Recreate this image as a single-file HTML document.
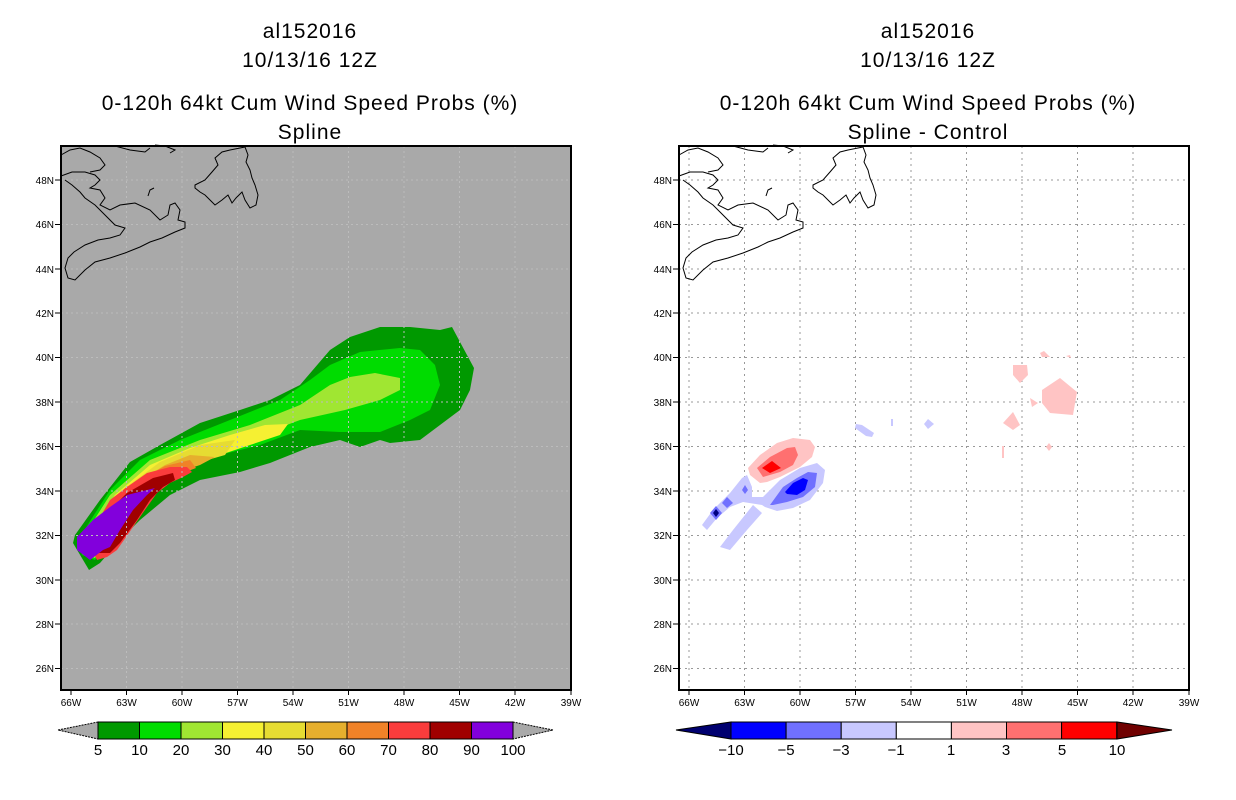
<!DOCTYPE html>
<html><head><meta charset="utf-8"><style>
html,body{margin:0;padding:0;background:#fff;}
svg{display:block;font-family:"Liberation Sans",sans-serif;}
.t{font-size:21px;text-anchor:middle;fill:#000;letter-spacing:1px}
.ax{font-size:10px;fill:#000}
.cb{font-size:15px;text-anchor:middle;fill:#000}
</style></head><body>
<svg width="1236" height="800" viewBox="0 0 1236 800" xmlns="http://www.w3.org/2000/svg">
<rect width="1236" height="800" fill="#fff"/>
<!-- titles -->
<text class="t" x="310" y="38">al152016</text>
<text class="t" x="310" y="67">10/13/16 12Z</text>
<text class="t" x="310" y="110">0-120h 64kt Cum Wind Speed Probs (%)</text>
<text class="t" x="310" y="139">Spline</text>
<text class="t" x="928" y="38">al152016</text>
<text class="t" x="928" y="67">10/13/16 12Z</text>
<text class="t" x="928" y="110">0-120h 64kt Cum Wind Speed Probs (%)</text>
<text class="t" x="928" y="139">Spline - Control</text>

<defs>
<g id="coast" fill="none" stroke="#000" stroke-width="1">
<path d="M61,176 L72,172 L85,172 L95,175 L100,180 L95,185 L90,188 L100,190 L105,198 L100,205 L110,210 L120,205 L135,203 L150,210 L160,220 L168,215 L170,205 L175,203 L180,210 L178,220 L185,222 L185,228 L175,232 L162,238 L150,242 L140,247 L125,253 L110,258 L95,262 L85,270 L75,280 L68,278 L65,268 L68,258 L74,252 L85,245 L98,240 L110,238 L120,235 L125,228 L115,225 L105,215 L95,205 L85,198 L80,192 L72,185 L65,180"/>
<path d="M61,155 L70,150 L80,148 L90,152 L100,158 L105,165 L100,170 L90,172"/>
<path d="M115,146 L130,150 L145,152 L150,148"/>
<path d="M148,196 L150,190 L154,188"/>
<path d="M195,185 L205,180 L212,172 L218,165 L215,158 L222,152 L230,150 L240,148 L245,147 L248,155 L246,162 L250,170 L252,178 L255,185 L258,195 L256,205 L250,208 L245,200 L242,192 L236,198 L232,203 L228,195 L222,200 L215,205 L210,200 L205,195 L200,192 L195,188 Z"/>
<path d="M155,145 L165,146 L175,150 L170,153"/>
</g>
</defs>

<!-- LEFT PLOT -->
<rect x="61" y="146" width="510" height="544" fill="#a9a9a9"/>
<polygon fill="#009900" points="89,570 73,543 75,535 100,500 130,462 160,445 200,423 240,410 270,400 300,385 330,350 350,337 380,327 410,327 440,330 452,327 460,342 474,368 470,390 460,410 440,425 420,440 390,443 380,440 360,447 340,440 310,447 270,463 240,472 200,480 170,495 140,520 120,540 100,563"/>
<polygon fill="#00dc00" points="82,555 78,540 110,490 140,460 180,440 230,420 280,400 310,380 330,365 360,352 400,348 420,350 435,365 440,385 430,410 410,420 380,432 340,432 300,430 260,445 220,455 180,470 150,490 125,515 95,560"/>
<polygon fill="#a0e632" points="85,555 80,542 110,495 150,460 200,440 250,425 300,405 330,385 350,377 375,373 400,378 400,390 380,400 345,410 300,420 260,435 220,445 180,460 150,480 125,512 95,558"/>
<polygon fill="#f5f032" points="87,552 83,541 115,495 150,465 190,448 230,435 265,425 288,424 280,435 250,445 220,455 180,468 150,490 120,525 96,555"/>
<polygon fill="#e6dc32" points="88,550 85,540 120,492 160,462 200,445 235,440 225,455 190,465 155,485 120,520 97,553"/>
<polygon fill="#e6af2d" points="89,548 86,540 125,490 165,465 190,455 215,457 200,465 170,475 140,500 115,530 98,552"/>
<polygon fill="#f08228" points="89,546 87,540 125,488 165,466 190,460 196,468 170,478 140,502 115,532 99,551"/>
<polygon fill="#fa3c3c" points="90,545 88,538 110,500 127,487 147,473 170,467 187,467 192,472 183,477 170,483 157,493 147,507 133,527 117,550 107,557 97,560"/>
<polygon fill="#a00000" points="90,540 105,515 127,493 153,478 173,473 175,480 163,487 150,500 137,520 120,543 110,553 97,553"/>
<polygon fill="#8200dc" points="77,537 93,520 110,507 127,495 155,488 147,495 133,510 120,530 110,547 103,550 90,560 77,550"/>
<!-- grid left -->
<g stroke="#bcbcbc" stroke-width="1" stroke-dasharray="2,3">
<path d="M126.5,146V690M182,146V690M237.5,146V690M293,146V690M348.5,146V690M404,146V690M459.5,146V690M515,146V690"/>
<path d="M61,180H571M61,224.5H571M61,269H571M61,313H571M61,357.5H571M61,402H571M61,446.5H571M61,491H571M61,535.5H571M61,580H571M61,624H571M61,668.5H571"/>
</g>
<use href="#coast"/>
<rect x="61" y="146" width="510" height="544" fill="none" stroke="#000" stroke-width="2"/>

<!-- RIGHT PLOT -->
<g transform="translate(618,0)">
<g stroke="#999" stroke-width="1" stroke-dasharray="2,4">
<path d="M71,146V690M126.5,146V690M182,146V690M237.5,146V690M293,146V690M348.5,146V690M404,146V690M459.5,146V690M515,146V690"/>
<path d="M61,180H571M61,224.5H571M61,269H571M61,313H571M61,357.5H571M61,402H571M61,446.5H571M61,491H571M61,535.5H571M61,580H571M61,624H571M61,668.5H571"/>
</g>
</g>
<g>
<polygon fill="#ffc4c4" points="748,468 760,455 777,443 793,438 810,440 815,447 812,457 800,467 790,472 780,477 767,482 760,483 750,475"/>
<polygon fill="#ff7070" points="757,468 770,457 787,448 795,447 798,455 793,465 780,472 763,477"/>
<polygon fill="#ff0000" points="762,468 772,461 781,468 770,473"/>
<polygon fill="#c8c8ff" points="702,525 713,510 730,493 742,478 747,475 752,487 752,497 763,497 780,480 800,468 817,463 825,470 823,483 810,500 793,508 777,511 765,507 762,505 743,502 730,507 717,518 707,530"/>
<polygon fill="#c8c8ff" points="720,547 733,530 753,505 762,513 747,530 730,550"/>
<polygon fill="#7070ff" points="770,505 783,487 797,478 808,472 817,473 815,487 803,497 787,502 773,505"/>
<polygon fill="#0000ff" points="785,492 793,483 803,478 808,480 805,490 797,495 787,494"/>
<polygon fill="#7070ff" points="710,513 716,506 722,513 716,520"/><polygon fill="#000080" points="713,513 716,509 719,513 716,517"/>
<polygon fill="#7070ff" points="722,503 727,497 733,503 727,508"/>
<polygon fill="#7070ff" points="742,490 745,485 748,490 745,494"/>
<polygon fill="#c8c8ff" points="856,424 862,425 874,433 872,437 866,436 855,428"/>
<polygon fill="#c8c8ff" points="891,419 893,419 893,426 891,426"/>
<polygon fill="#c8c8ff" points="924,424 928,419 934,424 928,429"/>
<polygon fill="#ffc4c4" points="1042,390 1060,378 1077,392 1073,415 1050,413 1042,403"/>
<polygon fill="#ffc4c4" points="1013,365 1027,365 1028,375 1020,383 1013,375"/>
<polygon fill="#ffc4c4" points="1003,423 1013,412 1020,425 1013,430"/>
<polygon fill="#ffc4c4" points="1030,398 1038,403 1032,407"/>
<polygon fill="#ffc4c4" points="1040,353 1044,351 1050,357 1042,357"/>
<polygon fill="#ffc4c4" points="1046,447 1049,443 1052,447 1049,451"/>
<polygon fill="#ffc4c4" points="1002,446 1004,446 1004,458 1002,458"/>
<polygon fill="#ffc4c4" points="1066,356 1070,355 1071,358"/>
</g>
<g transform="translate(618,0)"><use href="#coast"/></g>
<rect x="679" y="146" width="510" height="544" fill="none" stroke="#000" stroke-width="2"/>

<!-- axis labels -->
<g class="ax" id="axl">
<g text-anchor="end">
<text x="54" y="184">48N</text><text x="54" y="228">46N</text><text x="54" y="273">44N</text><text x="54" y="317">42N</text><text x="54" y="361">40N</text><text x="54" y="406">38N</text><text x="54" y="450">36N</text><text x="54" y="495">34N</text><text x="54" y="539">32N</text><text x="54" y="584">30N</text><text x="54" y="628">28N</text><text x="54" y="672">26N</text>
</g>
<g stroke="#000"><path d="M55,180H61M55,224.5H61M55,269H61M55,313H61M55,357.5H61M55,402H61M55,446.5H61M55,491H61M55,535.5H61M55,580H61M55,624H61M55,668.5H61"/>
<path d="M71,690V695M126.5,690V695M182,690V695M237.5,690V695M293,690V695M348.5,690V695M404,690V695M459.5,690V695M515,690V695M571,690V695"/></g>
<g text-anchor="middle">
<text x="71" y="706">66W</text><text x="126.5" y="706">63W</text><text x="182" y="706">60W</text><text x="237.5" y="706">57W</text><text x="293" y="706">54W</text><text x="348.5" y="706">51W</text><text x="404" y="706">48W</text><text x="459.5" y="706">45W</text><text x="515" y="706">42W</text><text x="571" y="706">39W</text>
</g>
</g>
<g transform="translate(618,0)"><use href="#axl"/></g>

<!-- left colorbar -->
<g stroke="#000" stroke-width="1">
<polygon fill="#a9a9a9" points="58,730 98,722 98,739" stroke-dasharray="2,1"/>
<polygon fill="#a9a9a9" points="553,730 513,722 513,739" stroke-dasharray="2,1"/>
<rect x="98" y="722" width="41.5" height="17" fill="#009900"/>
<rect x="139.5" y="722" width="41.5" height="17" fill="#00dc00"/>
<rect x="181" y="722" width="41.5" height="17" fill="#a0e632"/>
<rect x="222.5" y="722" width="41.5" height="17" fill="#f5f032"/>
<rect x="264" y="722" width="41.5" height="17" fill="#e6dc32"/>
<rect x="305.5" y="722" width="41.5" height="17" fill="#e6af2d"/>
<rect x="347" y="722" width="41.5" height="17" fill="#f08228"/>
<rect x="388.5" y="722" width="41.5" height="17" fill="#fa3c3c"/>
<rect x="430" y="722" width="41.5" height="17" fill="#a00000"/>
<rect x="471.5" y="722" width="41.5" height="17" fill="#8200dc"/>
</g>
<g class="cb">
<text x="98" y="755">5</text><text x="139.5" y="755">10</text><text x="181" y="755">20</text><text x="222.5" y="755">30</text><text x="264" y="755">40</text><text x="305.5" y="755">50</text><text x="347" y="755">60</text><text x="388.5" y="755">70</text><text x="430" y="755">80</text><text x="471.5" y="755">90</text><text x="513" y="755">100</text>
</g>

<!-- right colorbar -->
<g stroke="#000" stroke-width="1">
<polygon fill="#000070" points="676,730 731,722 731,739"/>
<polygon fill="#700000" points="1172,730 1117,722 1117,739"/>
<rect x="731" y="722" width="55.1" height="17" fill="#0000ff"/>
<rect x="786.1" y="722" width="55.1" height="17" fill="#7070ff"/>
<rect x="841.2" y="722" width="55.1" height="17" fill="#c8c8ff"/>
<rect x="896.3" y="722" width="55.1" height="17" fill="#ffffff"/>
<rect x="951.4" y="722" width="55.1" height="17" fill="#ffc4c4"/>
<rect x="1006.5" y="722" width="55.1" height="17" fill="#ff7070"/>
<rect x="1061.6" y="722" width="55.1" height="17" fill="#ff0000"/>
</g>
<g class="cb">
<text x="731" y="755">−10</text><text x="786" y="755">−5</text><text x="841" y="755">−3</text><text x="896" y="755">−1</text><text x="951" y="755">1</text><text x="1006" y="755">3</text><text x="1062" y="755">5</text><text x="1117" y="755">10</text>
</g>
</svg>
</body></html>
